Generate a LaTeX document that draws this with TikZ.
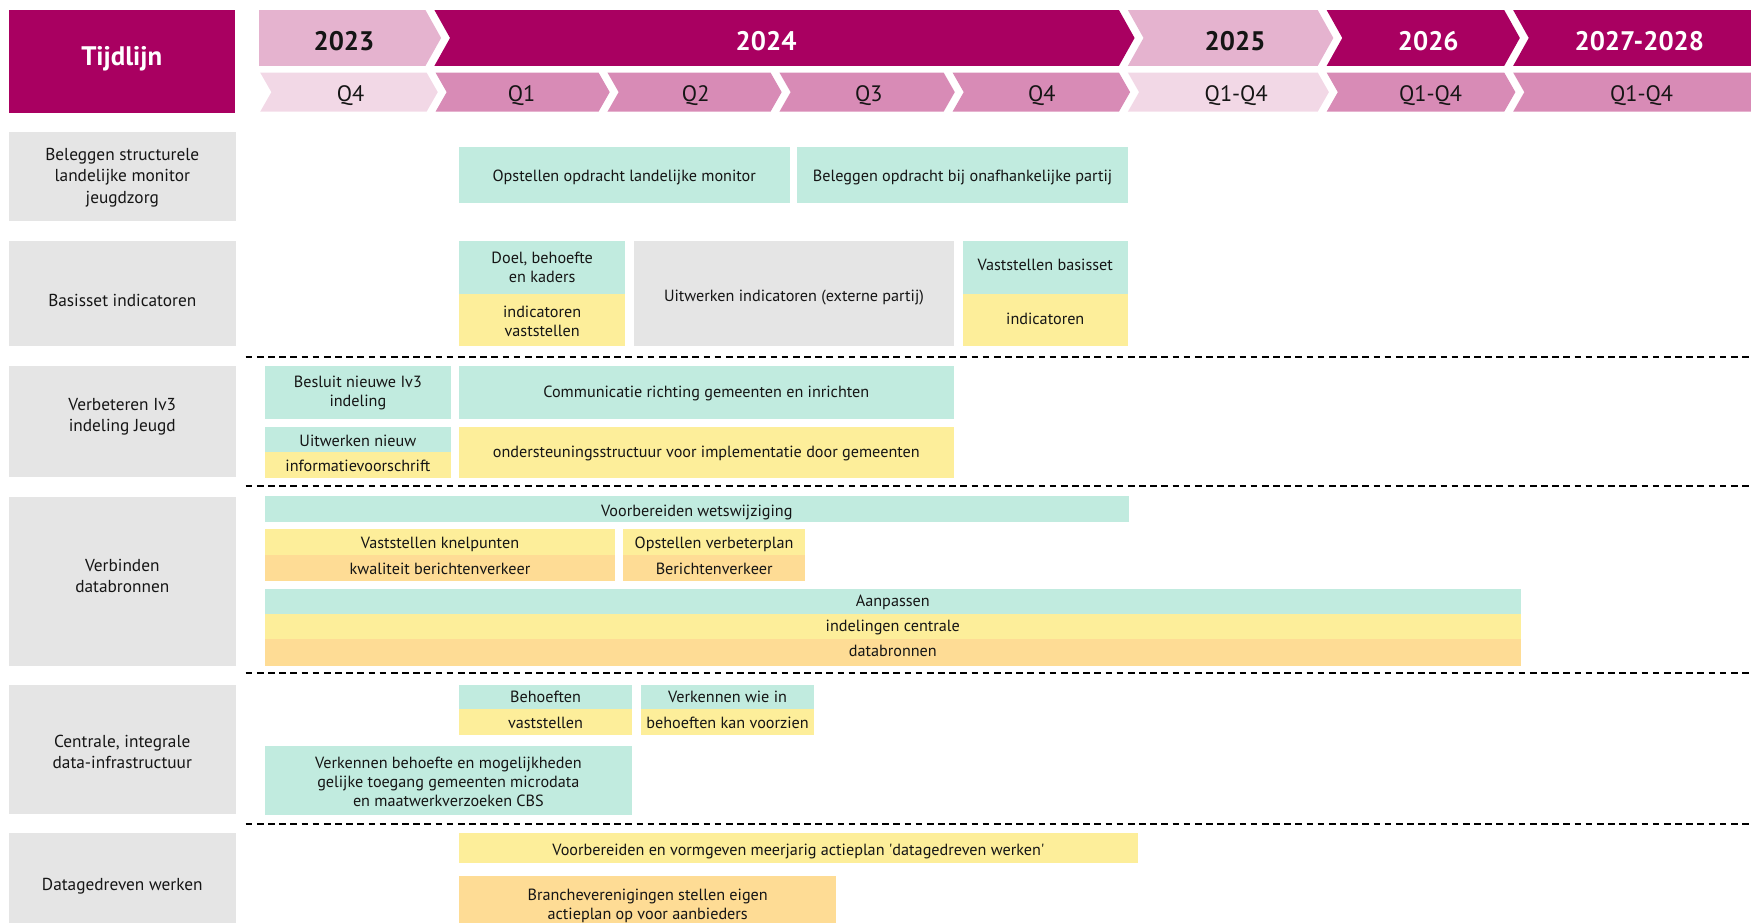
\documentclass[tikz,border=0pt]{standalone}
\usepackage{fontspec}
\setmainfont{PT Sans}
\definecolor{rvDark}{HTML}{A90061}
\definecolor{rvLight}{HTML}{E5B3CF}
\definecolor{rvVLight}{HTML}{F2D8E6}
\definecolor{rvMid}{HTML}{D88BB6}
\definecolor{rvMint}{HTML}{C1EBDF}
\definecolor{rvYellow}{HTML}{FDEE9A}
\definecolor{rvOrange}{HTML}{FEDC95}
\definecolor{rvGray}{HTML}{E5E5E5}
\definecolor{rvText}{HTML}{151515}
% [offset]{name}{x1}{y1}{x2}{y2}{style}{text}
\newcommand\tbx[8][0]{%
  \node[box,#7,minimum width={(#5)-(#3)},minimum height={(#6)-(#4)}] (#2) at ({((#3)+(#5))/2},{((#4)+(#6))/2}) {};
  \node[box,#7,fill=none] (#2t) at ({((#3)+(#5))/2},{((#4)+(#6))/2+(#1)}) {#8};}
\begin{document}
\begin{tikzpicture}[x=1pt,y=-1pt,
  box/.style={inner sep=0pt, outer sep=0pt, align=center, text=rvText, font=\fontsize{14.5}{17}\selectfont},
  lbl/.style={fill=rvGray, font=\fontsize{15.5}{19}\selectfont},
  yr/.style={font=\bfseries\fontsize{24}{28}\selectfont, anchor=base, inner sep=0pt},
  qt/.style={font=\fontsize{20}{24}\selectfont, anchor=base, inner sep=0pt, text=rvText},
  sepline/.style={line width=1.8pt, dash pattern=on 6pt off 4pt}
]
\useasboundingbox (0,0) rectangle (1568,826);
\begin{scope}
\clip (0,0) rectangle (1568,826);
% header
\tbx[-2]{tijd}{8}{9}{210}{101}{fill=rvDark, text=white, font=\bfseries\fontsize{24}{28}\selectfont}{Tijdlijn}
% year row
\fill[rvLight] (232,9) -- (381,9) -- (395,34) -- (381,59) -- (232,59) -- cycle;
\fill[rvDark] (389,9) -- (1002,9) -- (1016,34) -- (1002,59) -- (389,59) -- (403,34) -- cycle;
\fill[rvLight] (1010,9) -- (1180,9) -- (1194,34) -- (1180,59) -- (1010,59) -- (1024,34) -- cycle;
\fill[rvDark] (1188,9) -- (1347,9) -- (1361,34) -- (1347,59) -- (1188,59) -- (1202,34) -- cycle;
\fill[rvDark] (1355,9) -- (1580,9) -- (1580,59) -- (1355,59) -- (1369,34) -- cycle;
% quarter row
\fill[rvVLight] (233,65) -- (382,65) -- (392,82.5) -- (382,100) -- (233,100) -- (243,82.5) -- cycle;
\fill[rvMid] (390,65) -- (536,65) -- (546,82.5) -- (536,100) -- (390,100) -- (400,82.5) -- cycle;
\fill[rvMid] (544,65) -- (690,65) -- (700,82.5) -- (690,100) -- (544,100) -- (554,82.5) -- cycle;
\fill[rvMid] (698,65) -- (845,65) -- (855,82.5) -- (845,100) -- (698,100) -- (708,82.5) -- cycle;
\fill[rvMid] (853,65) -- (1002,65) -- (1012,82.5) -- (1002,100) -- (853,100) -- (863,82.5) -- cycle;
\fill[rvVLight] (1010,65) -- (1180,65) -- (1190,82.5) -- (1180,100) -- (1010,100) -- (1020,82.5) -- cycle;
\fill[rvMid] (1188,65) -- (1347,65) -- (1357,82.5) -- (1347,100) -- (1188,100) -- (1198,82.5) -- cycle;
\fill[rvMid] (1355,65) -- (1580,65) -- (1580,100) -- (1355,100) -- (1365,82.5) -- cycle;
\node[yr, text=rvText] (y23) at (308,45.5) {2023};
\node[yr, text=white] (y24) at (686,45.5) {2024};
\node[yr, text=rvText] (y25) at (1106,45.5) {2025};
\node[yr, text=white] (y26) at (1279,45.5) {2026};
\node[yr, text=white] (y27) at (1468,45.5) {2027-2028};
\node[qt] (q23) at (314,91) {Q4};
\node[qt] (q1) at (467,91) {Q1};
\node[qt] (q2) at (623,91) {Q2};
\node[qt] (q3) at (778,91) {Q3};
\node[qt] (q4) at (933,91) {Q4};
\node[qt] (q25) at (1107,91) {Q1-Q4};
\node[qt] (q26) at (1281,91) {Q1-Q4};
\node[qt] (q27) at (1470,91) {Q1-Q4};
% row labels
\tbx[1]{l1}{8}{118}{211}{198}{lbl}{Beleggen structurele\\landelijke monitor\\jeugdzorg}
\tbx[6]{l2}{8}{216}{211}{310}{lbl}{Basisset indicatoren}
\tbx[-4]{l3}{8}{328}{211}{427}{lbl}{Verbeteren Iv3\\indeling Jeugd}
\tbx[-5]{l4}{8}{445}{211}{596}{lbl}{Verbinden\\databronnen}
\tbx[2]{l5}{8}{613}{211}{729}{lbl}{Centrale, integrale\\data-infrastructuur}
\tbx[3]{l6}{8}{746}{211}{836}{lbl}{Datagedreven werken}
% separators
\coordinate (s1a) at (220,320); \coordinate (s1b) at (1570,320);
\coordinate (s2a) at (220,435.5); \coordinate (s2b) at (1570,435.5);
\coordinate (s3a) at (220,603); \coordinate (s3b) at (1570,603);
\coordinate (s4a) at (220,738); \coordinate (s4b) at (1570,738);
\draw[sepline] (s1a) -- (s1b);
\draw[sepline] (s2a) -- (s2b);
\draw[sepline] (s3a) -- (s3b);
\draw[sepline] (s4a) -- (s4b);
% row 1
\tbx[2]{t11}{411}{132}{707}{182}{fill=rvMint}{Opstellen opdracht landelijke monitor}
\tbx[2]{t12}{714}{132}{1010}{182}{fill=rvMint}{Beleggen opdracht bij onafhankelijke partij}
% row 2
\tbx{t21a}{411}{216}{560}{263}{fill=rvMint}{Doel, behoefte\\en kaders}
\tbx[1]{t21b}{411}{263}{560}{310}{fill=rvYellow}{indicatoren\\vaststellen}
\tbx[3]{t22}{568}{216}{854}{310}{fill=rvGray}{Uitwerken indicatoren (externe partij)}
\tbx[-2]{t23a}{862}{216}{1010}{263}{fill=rvMint}{Vaststellen basisset}
\tbx[-1]{t23b}{862}{263}{1010}{310}{fill=rvYellow}{indicatoren}
% row 3
\tbx{t31}{237}{328}{404}{375}{fill=rvMint}{Besluit nieuwe Iv3\\indeling}
\tbx[1]{t32}{411}{328}{854}{375}{fill=rvMint}{Communicatie richting gemeenten en inrichten}
\tbx[1]{t33a}{237}{382}{404}{405}{fill=rvMint}{Uitwerken nieuw}
\tbx[1]{t33b}{237}{405}{404}{428}{fill=rvYellow}{informatievoorschrift}
\tbx[1]{t34}{411}{382}{854}{428}{fill=rvYellow}{ondersteuningsstructuur voor implementatie door gemeenten}
% row 4
\tbx[3.5]{t41}{237}{444}{1011}{467}{fill=rvMint}{Voorbereiden wetswijziging}
\tbx[2]{t42a}{237}{474}{551}{497}{fill=rvYellow}{Vaststellen knelpunten}
\tbx[1]{t42b}{237}{497}{551}{520}{fill=rvOrange}{kwaliteit berichtenverkeer}
\tbx[2]{t43a}{558}{474}{721}{497}{fill=rvYellow}{Opstellen verbeterplan}
\tbx[1]{t43b}{558}{497}{721}{520}{fill=rvOrange}{Berichtenverkeer}
\tbx[1]{t44a}{237}{527}{1362}{550}{fill=rvMint}{Aanpassen}
\tbx[1]{t44b}{237}{550}{1362}{572}{fill=rvYellow}{indelingen centrale}
\tbx[-1]{t44c}{237}{572}{1362}{596}{fill=rvOrange}{databronnen}
% row 5
\tbx{t51a}{411}{613}{566}{635}{fill=rvMint}{Behoeften}
\tbx[1]{t51b}{411}{635}{566}{658}{fill=rvYellow}{vaststellen}
\tbx{t52a}{574}{613}{729}{635}{fill=rvMint}{Verkennen wie in}
\tbx[1]{t52b}{574}{635}{729}{658}{fill=rvYellow}{behoeften kan voorzien}
\tbx[1.5]{t53}{237}{668}{566}{730}{fill=rvMint}{Verkennen behoefte en mogelijkheden\\gelijke toegang gemeenten microdata\\en maatwerkverzoeken CBS}
% row 6
\tbx[3]{t61}{411}{746}{1019}{773}{fill=rvYellow}{Voorbereiden en vormgeven meerjarig actieplan \textquotesingle datagedreven werken\textquotesingle}
\tbx[3]{t62}{411}{784}{749}{832}{fill=rvOrange}{Brancheverenigingen stellen eigen\\actieplan op voor aanbieders}
\end{scope}
\end{tikzpicture}
\end{document}
